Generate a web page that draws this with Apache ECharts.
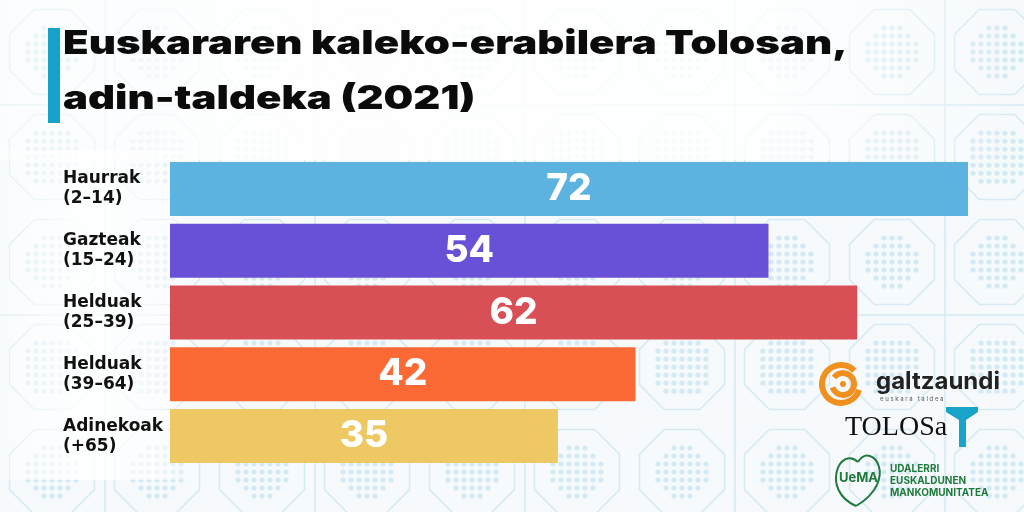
<!DOCTYPE html>
<html>
<head>
<meta charset="utf-8">
<script src="https://cdn.jsdelivr.net/npm/echarts@6/dist/echarts.min.js"></script>
<style>
  html, body { margin: 0; padding: 0; }
  #main { width: 1024px; height: 512px; }
</style>
</head>
<body>
<div id="main"></div>
<script>
// adin-taldeak eta erabilera (%)
const groups = ['Haurrak\n(2–14)', 'Gazteak\n(15–24)', 'Helduak\n(25–39)', 'Helduak\n(39–64)', 'Adinekoak\n(+65)']
const usage = [72, 54, 62, 42, 35]
const barColors = ['#5cb3e0', '#6851d6', '#d85055', '#fb6934', '#eec862']
const titleLines = ['Euskararen kaleko-erabilera Tolosan,', 'adin-taldeka (2021)']

// atzealdeko eredua (dekorazioa)
function makePattern() {
  const c = document.createElement('canvas')
  c.width = 210; c.height = 210
  const g = c.getContext('2d')
  g.fillStyle = '#f6fafc'
  g.fillRect(0, 0, 210, 210)
  g.strokeStyle = '#d6eaf4'
  g.fillStyle = '#d4e9f3'
  g.lineWidth = 1.5
  const cells = [[52, 52], [157, 157], [157, 52], [52, 157]]
  cells.forEach(([cx, cy], n) => {
    g.beginPath()
    for (let i = 0; i < 8; i++) {
      const a = Math.PI / 8 + i * Math.PI / 4
      const px = cx + 46 * Math.cos(a), py = cy + 46 * Math.sin(a)
      i ? g.lineTo(px, py) : g.moveTo(px, py)
    }
    g.closePath(); g.stroke()
    for (let r = -3; r <= 3; r++) {
      for (let k = -3; k <= 3; k++) {
        if (Math.abs(r) + Math.abs(k) > 4 + (n % 2)) continue
        g.beginPath(); g.arc(cx + k * 8, cy + r * 8, 2.6, 0, Math.PI * 2); g.fill()
      }
    }
  })
  g.beginPath()
  g.moveTo(105, 0); g.lineTo(105, 210)
  g.moveTo(0, 105); g.lineTo(210, 105)
  g.stroke()
  return c
}

const chart = echarts.init(document.getElementById('main'))

const option = {
  backgroundColor: { image: makePattern(), repeat: 'repeat' },
  grid: { left: 170, right: 56, top: 158, height: 309 },
  xAxis: { type: 'value', min: 0, max: 72, show: false },
  yAxis: {
    type: 'category',
    data: groups,
    inverse: true,
    axisLine: { show: false },
    axisTick: { show: false },
    axisLabel: {
      align: 'left',
      margin: 107,
      fontFamily: 'DejaVu Sans',
      fontWeight: 'bold',
      fontSize: 17,
      lineHeight: 20,
      color: '#111'
    }
  },
  series: [{
    type: 'bar',
    barWidth: 54,
    data: usage.map((v, i) => ({ value: v, itemStyle: { color: barColors[i] } })),
    label: {
      show: true,
      position: 'inside',
      fontFamily: 'Inter',
      fontWeight: 800,
      fontSize: 37,
      color: '#fff'
    },
    z: 3
  }],
  graphic: [
    // izenburuaren atzeko argia
    {
      type: 'rect', z: 0, silent: true,
      shape: { x: 0, y: 0, width: 1024, height: 160 },
      style: {
        fill: new echarts.graphic.LinearGradient(0, 0, 1, 0, [
          { offset: 0, color: 'rgba(255,255,255,0.5)' },
          { offset: 0.3, color: 'rgba(255,255,255,0.9)' },
          { offset: 0.75, color: 'rgba(255,255,255,0.8)' },
          { offset: 1, color: 'rgba(255,255,255,0)' }
        ])
      }
    },
    {
      type: 'rect', z: 0, silent: true,
      shape: { x: 0, y: 150, width: 200, height: 330 },
      style: {
        fill: new echarts.graphic.LinearGradient(0, 0, 1, 0, [
          { offset: 0, color: 'rgba(255,255,255,0.3)' },
          { offset: 0.4, color: 'rgba(255,255,255,0.85)' },
          { offset: 0.8, color: 'rgba(255,255,255,0.6)' },
          { offset: 1, color: 'rgba(255,255,255,0)' }
        ])
      }
    },
    // izenburua (zabaldua)
    ...titleLines.map((t, i) => ({
      type: 'text', z: 6, x: 63, y: 44 + i * 55, scaleX: 1.27,
      style: { text: t, font: '900 33px Inter', fill: '#0b0b0b', verticalAlign: 'middle' }
    })),
    // izenburuko marra urdina
    { type: 'rect', z: 5, shape: { x: 48, y: 28, width: 12, height: 95 }, style: { fill: '#16a2c9' } },
    // galtzaundi
    { type: 'arc', z: 5, shape: { cx: 841, cy: 384, r: 19, startAngle: Math.PI * 0.1, endAngle: Math.PI * 1.75 }, style: { stroke: '#f0901e', lineWidth: 6, fill: null } },
    { type: 'arc', z: 5, shape: { cx: 843, cy: 384, r: 11, startAngle: Math.PI * 1.2, endAngle: Math.PI * 2.9 }, style: { stroke: '#f0901e', lineWidth: 6, fill: null } },
    { type: 'circle', z: 5, shape: { cx: 843, cy: 384, r: 3 }, style: { fill: '#f0901e' } },
    { type: 'text', z: 5, x: 876, y: 370, style: { text: 'galtzaundi', font: 'bold 24px Inter', fill: '#222' } },
    { type: 'text', z: 5, x: 880, y: 396, style: { text: 'e u s k a r a   t a l d e a', font: '6px Inter', fill: '#555' } },
    // Tolosa
    { type: 'text', z: 5, x: 845, y: 414, style: { text: 'TOLOSa', font: '28px "Liberation Serif"', fill: '#111' } },
    { type: 'polygon', z: 5, shape: { points: [[946, 407], [978, 407], [978, 412], [966, 420], [966, 447], [959, 447], [959, 420], [946, 412]] }, style: { fill: '#1aa3c9' } },
    // UEMA bihotza
    { type: 'bezierCurve', z: 5, shape: { x1: 856, y1: 506, x2: 858, y2: 462, cpx1: 820, cpy1: 490, cpx2: 840, cpy2: 445 }, style: { stroke: '#1f7a3c', lineWidth: 2, fill: null } },
    { type: 'bezierCurve', z: 5, shape: { x1: 858, y1: 462, x2: 856, y2: 506, cpx1: 872, cpy1: 440, cpx2: 900, cpy2: 480 }, style: { stroke: '#1f7a3c', lineWidth: 2, fill: null } },
    { type: 'text', z: 5, x: 839, y: 472, style: { text: 'UeMA', font: 'bold 13px Inter', fill: '#1f7a3c' } },
    { type: 'text', z: 5, x: 890, y: 463, style: { text: 'UDALERRI\nEUSKALDUNEN\nMANKOMUNITATEA', font: 'bold 10px Inter', lineHeight: 12, fill: '#1f7a3c' } }
  ]
}

chart.setOption(option)
</script>
</body>
</html>
